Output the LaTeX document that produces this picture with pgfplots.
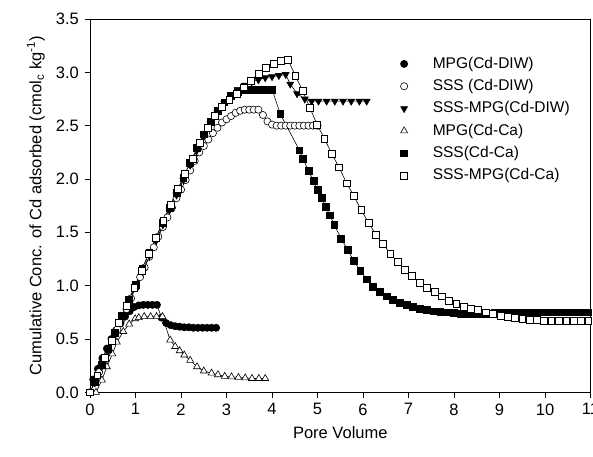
\documentclass[border=0pt]{standalone}
\usepackage{fontspec}
\setmainfont{Liberation Sans}
\usepackage{pgfplots}
\pgfplotsset{compat=1.18}

\begin{document}
\fontsize{16.5}{19.8}\selectfont
\begin{tikzpicture}
\begin{axis}[
  scale only axis,
  width=500pt, height=373pt,
  xmin=0, xmax=11, ymin=0, ymax=3.5,
  xtick={0,1,...,11},
  ytick={0,0.5,...,3.5},
  yticklabel style={/pgf/number format/.cd,fixed,fixed zerofill,precision=1},
  /pgf/number format/assume math mode=true,
  tick align=outside,
  xtick pos=bottom, ytick pos=left,
  major tick length=5.5pt,
  axis line style={line width=0.8pt},
  every tick/.style={black, line width=0.8pt},
  xlabel={Pore Volume},
  ylabel={Cumulative Conc. of Cd adsorbed (cmol\textsubscript{c} kg\textsuperscript{-1})},
  clip=false,
  legend style={draw=none, fill=none, at={(0.62,0.904)}, anchor=north west,
    inner sep=0pt, row sep=4.6pt, column sep=23pt, font=\fontsize{15.5}{18.6}\selectfont},
  legend cell align=left,
  legend image code/.code={\draw[#1] plot coordinates {(10pt,0pt)};},
  every axis plot/.append style={black, line width=0.6pt, mark options={solid, line width=0.8pt}},
]
% MPG(Cd-DIW)
\addplot[mark=*, mark size=3.6pt, mark options={fill=black}] coordinates {
(0.07,0.12) (0.17,0.22) (0.27,0.32) (0.37,0.41) (0.47,0.50) (0.57,0.58) (0.67,0.65)
(0.77,0.71) (0.87,0.76) (0.97,0.80) (1.07,0.815) (1.17,0.82) (1.27,0.82) (1.37,0.82)
(1.47,0.82) (1.57,0.70) (1.67,0.65) (1.77,0.63) (1.87,0.62) (1.97,0.615) (2.07,0.61)
(2.17,0.61) (2.27,0.605) (2.37,0.605) (2.47,0.605) (2.57,0.605) (2.67,0.605) (2.77,0.605)
};
\addlegendentry{MPG(Cd-DIW)}
% SSS (Cd-DIW)
\addplot[mark=*, mark size=3.6pt, mark options={fill=white}] coordinates {
(0.0,0.0) (0.1,0.09) (0.2,0.19) (0.3,0.29) (0.4,0.39) (0.5,0.49) (0.6,0.59) (0.7,0.69)
(0.8,0.78) (0.9,0.88) (1.0,0.98) (1.1,1.08) (1.2,1.17) (1.3,1.27) (1.4,1.36) (1.5,1.46)
(1.6,1.55) (1.7,1.64) (1.8,1.73) (1.9,1.82) (2.0,1.90) (2.1,1.99) (2.2,2.08) (2.3,2.17)
(2.4,2.25) (2.5,2.31) (2.6,2.37) (2.7,2.43) (2.8,2.48) (2.9,2.53) (3.0,2.56) (3.1,2.59)
(3.2,2.62) (3.3,2.64) (3.4,2.65) (3.5,2.65) (3.6,2.65) (3.7,2.65) (3.8,2.60) (3.9,2.54)
(4.0,2.51) (4.1,2.50) (4.2,2.50) (4.3,2.50) (4.4,2.50) (4.5,2.50) (4.6,2.50) (4.7,2.50)
(4.8,2.50) (4.9,2.50) (5.0,2.50)
};
\addlegendentry{SSS (Cd-DIW)}
% SSS-MPG(Cd-DIW)
\addplot[mark=triangle*, mark size=4pt, mark options={fill=black, rotate=180}] coordinates {
(0.10,0.09) (0.25,0.24) (0.40,0.39) (0.55,0.54) (0.70,0.69) (0.85,0.84) (1.00,0.99)
(1.15,1.13) (1.30,1.28) (1.45,1.42) (1.60,1.57) (1.75,1.71) (1.90,1.85) (2.05,1.99)
(2.20,2.13) (2.35,2.27) (2.50,2.40) (2.65,2.52) (2.80,2.62) (2.95,2.71) (3.10,2.78)
(3.25,2.84) (3.40,2.88) (3.55,2.91) (3.70,2.93) (3.85,2.95) (4.00,2.96) (4.15,2.97)
(4.30,2.98) (4.40,2.89) (4.55,2.80) (4.72,2.75) (4.87,2.73) (5.02,2.73) (5.20,2.73)
(5.38,2.73) (5.56,2.73) (5.74,2.73) (5.92,2.73) (6.08,2.73)
};
\addlegendentry{SSS-MPG(Cd-DIW)}
% MPG(Cd-Ca)
\addplot[mark=triangle*, mark size=4pt, mark options={fill=white}] coordinates {
(0.13,0.00) (0.26,0.115) (0.37,0.24) (0.49,0.36) (0.59,0.47) (0.73,0.57) (0.86,0.64)
(0.99,0.69) (1.07,0.70) (1.19,0.71) (1.33,0.71) (1.46,0.71) (1.59,0.71) (1.76,0.49)
(1.87,0.43) (1.97,0.39) (2.07,0.35) (2.20,0.30) (2.35,0.24) (2.50,0.20) (2.67,0.18)
(2.81,0.165) (2.96,0.15) (3.11,0.145) (3.26,0.14) (3.41,0.135) (3.56,0.13) (3.71,0.13)
(3.85,0.13)
};
\addlegendentry{MPG(Cd-Ca)}
% SSS(Cd-Ca)
\addplot[mark=square*, mark size=3.4pt, mark options={fill=black}] coordinates {
(0.10,0.10) (0.25,0.26) (0.40,0.41) (0.55,0.56) (0.70,0.72) (0.85,0.87) (1.00,1.01)
(1.15,1.16) (1.30,1.31) (1.45,1.45) (1.60,1.59) (1.75,1.73) (1.90,1.87) (2.05,2.01)
(2.20,2.15) (2.35,2.29) (2.50,2.42) (2.65,2.54) (2.80,2.64) (2.95,2.72) (3.10,2.78)
(3.25,2.82) (3.40,2.84) (3.55,2.84) (3.70,2.84) (3.85,2.84) (4.00,2.84) (4.18,2.61)
(4.60,2.27) (4.68,2.19) (4.80,2.08) (4.91,1.98) (5.00,1.90) (5.09,1.82) (5.18,1.74)
(5.27,1.66) (5.37,1.57) (5.52,1.44) (5.66,1.34) (5.80,1.23) (5.94,1.14) (6.08,1.06)
(6.22,0.99) (6.37,0.94) (6.52,0.90) (6.66,0.87) (6.81,0.84) (6.96,0.82) (7.10,0.80)
(7.25,0.78) (7.40,0.77) (7.55,0.76) (7.70,0.755) (7.85,0.75) (8.00,0.745) (8.15,0.74)
(8.30,0.74) (8.45,0.74) (8.60,0.74) (8.75,0.74) (8.90,0.745) (9.05,0.745) (9.20,0.75)
(9.35,0.75) (9.50,0.75) (9.65,0.75) (9.80,0.75) (9.95,0.75) (10.10,0.75) (10.25,0.75)
(10.40,0.75) (10.55,0.75) (10.70,0.75) (10.85,0.75) (10.95,0.75)
};
\addlegendentry{SSS(Cd-Ca)}
% SSS-MPG(Cd-Ca)
\addplot[mark=square*, mark size=3.4pt, mark options={fill=white}] coordinates {
(0.00,0.00) (0.16,0.16) (0.32,0.32) (0.48,0.48) (0.64,0.65) (0.81,0.81) (0.97,0.98)
(1.13,1.14) (1.29,1.30) (1.45,1.45) (1.61,1.61) (1.77,1.76) (1.93,1.91) (2.09,2.05)
(2.25,2.19) (2.42,2.34) (2.58,2.48) (2.74,2.59) (2.90,2.68) (3.06,2.74) (3.22,2.80)
(3.38,2.86) (3.54,2.92) (3.70,2.99) (3.86,3.04) (4.03,3.08) (4.19,3.11) (4.35,3.12)
(4.51,2.97) (4.67,2.83) (4.83,2.67) (4.99,2.51) (5.15,2.38) (5.31,2.24) (5.47,2.11)
(5.64,1.96) (5.80,1.84) (5.96,1.71) (6.12,1.59) (6.28,1.48) (6.44,1.39) (6.60,1.30)
(6.76,1.22) (6.92,1.15) (7.08,1.09) (7.25,1.03) (7.41,0.98) (7.57,0.94) (7.73,0.90)
(7.89,0.86) (8.05,0.83) (8.21,0.80) (8.37,0.78) (8.53,0.77) (8.69,0.75) (8.86,0.74)
(9.02,0.72) (9.18,0.71) (9.34,0.70) (9.50,0.69) (9.66,0.68) (9.82,0.68) (9.98,0.67)
(10.14,0.67) (10.30,0.67) (10.47,0.67) (10.63,0.67) (10.79,0.67) (10.95,0.67)
};
\addlegendentry{SSS-MPG(Cd-Ca)}
\end{axis}
\pgfresetboundingbox
\path[use as bounding box] ([shift={(-90pt,-64pt)}]current axis.south west)
  rectangle ([shift={(2.5pt,19pt)}]current axis.north east);
\end{tikzpicture}
\end{document}
